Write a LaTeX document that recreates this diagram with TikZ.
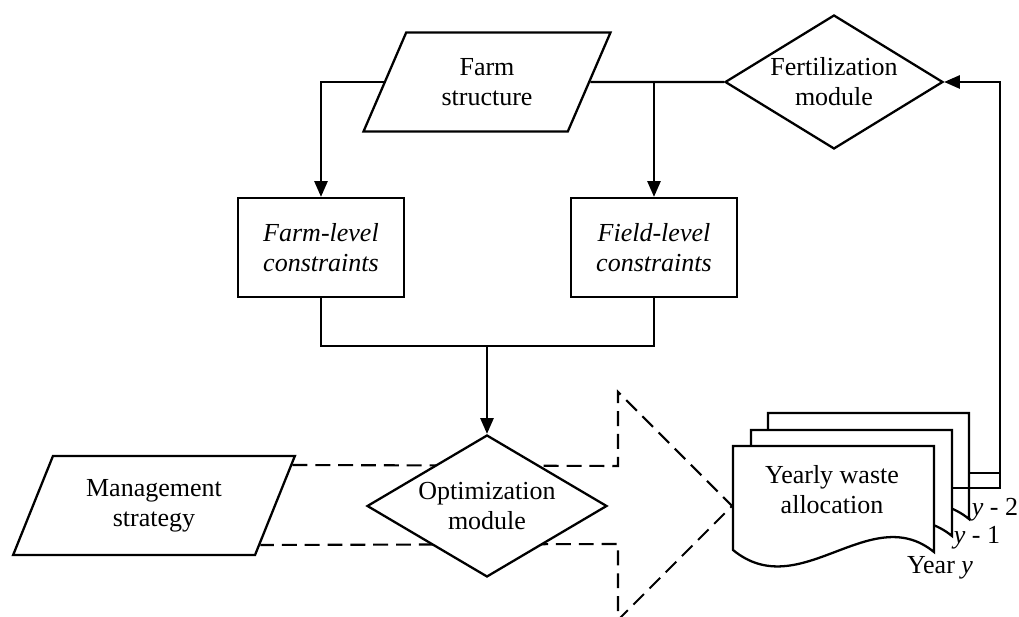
\documentclass[tikz,border=0pt]{standalone}
\usepackage{fontspec}
\setmainfont{Liberation Serif}
\usepackage{xcolor}
\usepackage{tikz}
\usetikzlibrary{positioning, arrows.meta, calc, shapes.geometric}

\newcommand{\wastepage}[1]{%
  \draw[pagebox, shift={#1}] (0,0) -- (201,0) -- (201,106)
    .. controls (137,54) and (67,159) .. (0,104) -- cycle;}

\begin{document}
\begin{tikzpicture}[
  x=0.02cm, y=-0.02cm,
  font=\fontsize{14.8}{17}\selectfont,
  line width=1.3pt,
  >={Triangle[length=9pt,width=7.5pt]},
  inputbox/.style={draw, trapezium, trapezium left angle=63, trapezium right angle=117, trapezium stretches=true, inner sep=0pt, minimum height=1.98cm, align=center},
  constrbox/.style={draw, rectangle, inner sep=0pt, minimum width=3.32cm, minimum height=1.98cm, align=center, font=\fontsize{14.8}{17}\selectfont\itshape},
  modulebox/.style={draw, diamond, aspect=1.6, inner sep=0pt, fill=white, align=center},
  pagebox/.style={draw, fill=white},
  bigarrow/.style={draw, line width=1.2pt, dash pattern=on 8.5pt off 4.5pt}
]
\path[use as bounding box, clip] (0,0) rectangle (1019,617);

\node[inputbox, minimum width=4.96cm] (farm) at (487,82) {Farm\\structure};
\node[modulebox, minimum width=4.36cm, minimum height=2.68cm] (fert) at (834,82) {Fertilization\\module};
\node[constrbox] (farmlvl) at (321,247.5) {Farm-level\\constraints};
\node[constrbox] (fieldlvl) at (654,247.5) {Field-level\\constraints};
\node[inputbox, minimum width=5.64cm] (mgmt) at (154,505.5) {Management\\strategy};

\draw[bigarrow] ($(mgmt.top right corner)!0.1!(mgmt.bottom right corner)$) -- (618,466) -- (618,392)
  -- (732,506) -- (618,620) -- (618,544) -- ($(mgmt.top right corner)!0.89!(mgmt.bottom right corner)$);

\node[modulebox, minimum width=4.8cm, minimum height=2.84cm] (opt) at (487,506) {Optimization\\module};

\wastepage{(768,413)}
\wastepage{(751,430)}
\wastepage{(733,446)}
\node[align=center] (alloc) at (832,490) {Yearly waste\\allocation};
\node (lab2) at (995,510) {\textit{y} - 2};
\node (lab1) at (977,538) {\textit{y} - 1};
\node (lab0) at (940,568) {Year \textit{y}};

\coordinate (merge) at (487,346);
\coordinate (p3out) at (969,473);
\coordinate (p2out) at (952,488);
\coordinate (bend) at (1000,488);

\draw[->] (farm.west) -| (farmlvl.north);
\draw (farm.east) -- (fert.west);
\draw[->] (fieldlvl.north |- farm.east) -- (fieldlvl.north);
\draw (farmlvl.south) |- (merge) -| (fieldlvl.south);
\draw[->] (merge) -- (opt.north);
\draw (p3out) -- (p3out -| bend);
\draw[->] (p2out) -- (bend) |- (fert.east);
\end{tikzpicture}
\end{document}
